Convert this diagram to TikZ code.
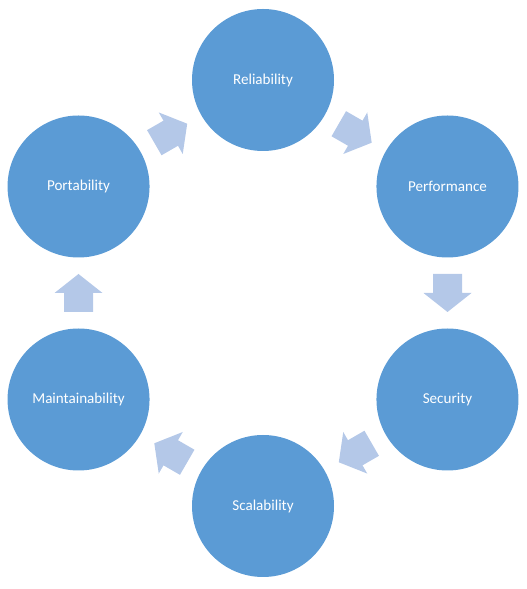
\documentclass[tikz,border=0pt]{standalone}
\usepackage{fontspec}
\setmainfont{Carlito}
\usetikzlibrary{calc}
\definecolor{circblue}{HTML}{5B9BD5}
\definecolor{arrblue}{HTML}{B4C8E8}
\begin{document}
\begin{tikzpicture}[x=1pt,y=1pt,
  circ/.style={circle,fill=circblue,draw=none,minimum size=142pt,inner sep=0pt,
    text=white,font=\fontsize{15.1}{18}\selectfont},
  arrblk/.style={fill=arrblue,draw=none}]
\useasboundingbox (0,0) rectangle (527,589);
\coordinate (C) at (263,296);
\node[circ] (rel) at ($(C)+(90:213)$) {Reliability};
\node[circ] (perf) at ($(C)+(30:213)$) {Performance};
\node[circ] (sec) at ($(C)+(-30:213)$) {Security};
\node[circ] (scal) at ($(C)+(-90:213)$) {Scalability};
\node[circ] (main) at ($(C)+(-150:213)$) {Maintainability};
\node[circ] (port) at ($(C)+(150:213)$) {Portability};
\foreach \a/\n in {60/a1,0/a2,-60/a3,-120/a4,180/a5,120/a6}{
  \coordinate (\n) at ($(C)+(\a:184.5)$);
  \pgfmathsetmacro{\r}{\a-90}
  \path[arrblk,shift={(\n)},rotate=\r]
    (-19,-14.5) -- (0,-14.5) -- (0,-24) -- (19,0) -- (0,24) -- (0,14.5) -- (-19,14.5) -- cycle;
}
\end{tikzpicture}
\end{document}
